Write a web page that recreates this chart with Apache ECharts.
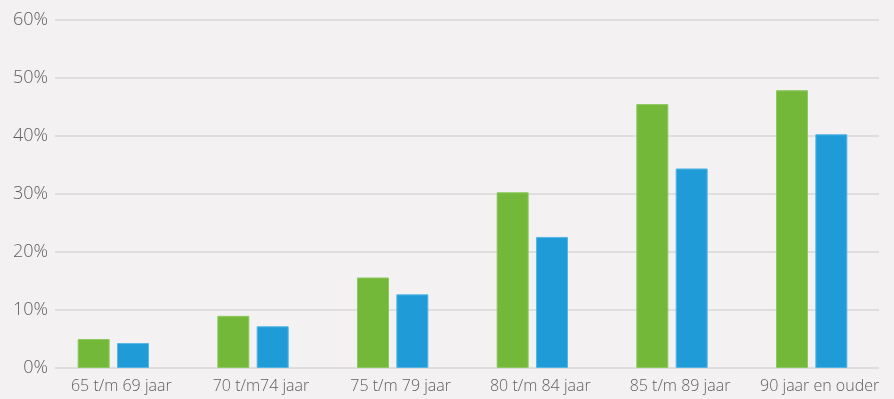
<!DOCTYPE html>
<html>
<head>
<meta charset="utf-8">
<script src="https://cdn.jsdelivr.net/npm/echarts@6/dist/echarts.min.js"></script>
<style>
    html, body { margin: 0; padding: 0; background: #f3f1f2; }
    #chart { width: 894px; height: 399px; }
</style>
</head>
<body>
<div id="chart"></div>
<script>
// leeftijdsgroepen
var categories = ['65 t/m 69 jaar', '70 t/m74 jaar', '75 t/m 79 jaar', '80 t/m 84 jaar', '85 t/m 89 jaar', '90 jaar en ouder']
var greenValues = [5.0, 9.0, 15.6, 30.3, 45.5, 47.9]
var blueValues = [4.3, 7.2, 12.7, 22.6, 34.4, 40.3]
var yTicks = [0, 10, 20, 30, 40, 50, 60]

var myChart = echarts.init(document.getElementById('chart'))

var textColor = '#5f5f5f'
var options = {
    backgroundColor: '#f3f1f2',
    animation: false,
    textStyle: { fontFamily: 'Open Sans' },
    // grid 0: bars + x labels, grid 1: gridlines + y labels
    grid: [
        { left: 43.5, right: 12.5, top: 20, bottom: 31, outerBoundsMode: 'none' },
        { left: 55, right: 15, top: 20, bottom: 31, outerBoundsMode: 'none' }
    ],
    xAxis: [{
        gridIndex: 0,
        type: 'category',
        data: categories,
        axisLine: { show: false },
        axisTick: { show: false },
        axisLabel: {
            color: textColor,
            fontSize: 16,
            fontWeight: 300,
            margin: 10,
            padding: [0, 0, 0, 16],
            interval: 0
        }
    }, {
        gridIndex: 1,
        type: 'category',
        data: categories,
        show: false
    }],
    yAxis: [{
        gridIndex: 0,
        type: 'value',
        min: yTicks[0],
        max: yTicks[yTicks.length - 1],
        interval: 10,
        axisLabel: { show: false },
        splitLine: { show: false },
        axisLine: { show: false },
        axisTick: { show: false }
    }, {
        gridIndex: 1,
        type: 'value',
        min: yTicks[0],
        max: yTicks[yTicks.length - 1],
        interval: 10,
        axisLine: { show: false },
        axisTick: { show: false },
        splitLine: {
            lineStyle: { color: '#dfdddd', width: 2 }
        },
        axisLabel: {
            color: textColor,
            fontSize: 18,
            fontWeight: 300,
            margin: 7,
            formatter: '{value}%'
        }
    }],
    series: [
        {
            type: 'bar',
            xAxisIndex: 0,
            yAxisIndex: 0,
            data: greenValues,
            barWidth: 32,
            barGap: '23%',
            itemStyle: { color: '#74b83a', borderColor: '#8ec862', borderWidth: 1 }
        },
        {
            type: 'bar',
            xAxisIndex: 0,
            yAxisIndex: 0,
            data: blueValues,
            barWidth: 32,
            barGap: '23%',
            itemStyle: { color: '#1f9cd8', borderColor: '#58b6e4', borderWidth: 1 }
        }
    ]
}
myChart.setOption(options)
</script>
</body>
</html>
